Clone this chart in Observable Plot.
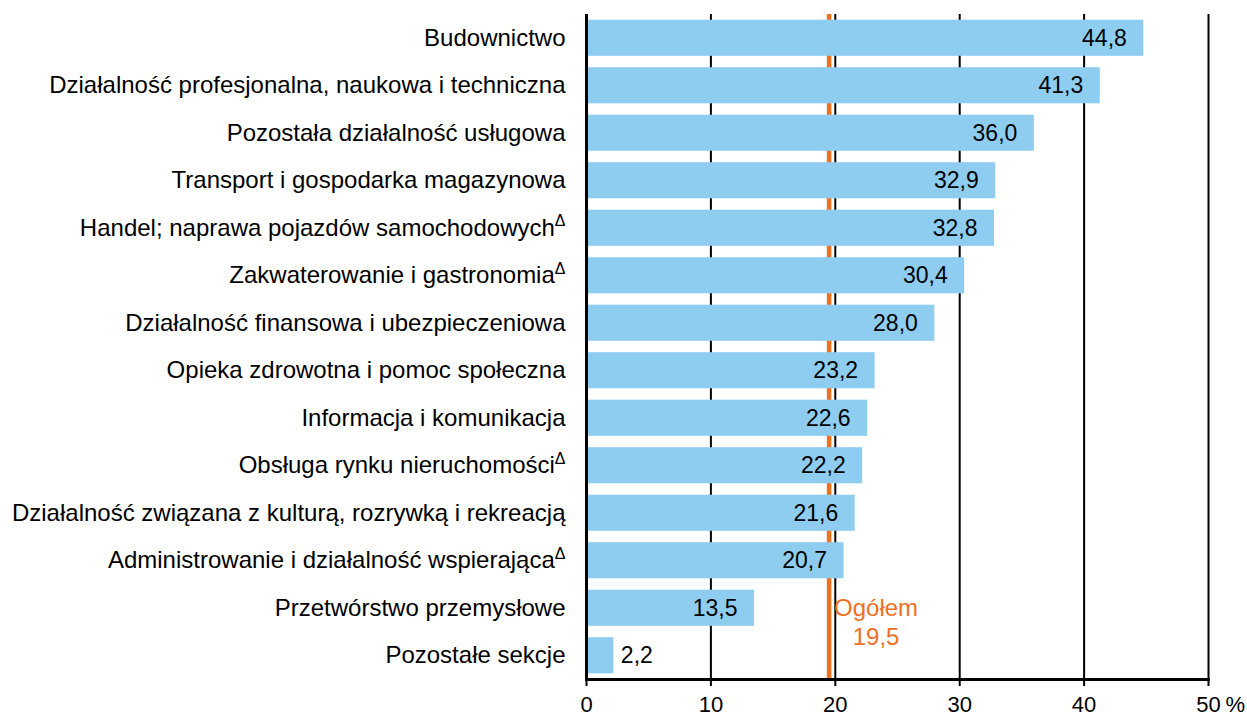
<!DOCTYPE html>
<html>
<head>
<meta charset="utf-8">
<script src="https://cdn.jsdelivr.net/npm/d3@7"></script>
<script src="https://cdn.jsdelivr.net/npm/@observablehq/plot@0.6"></script>
<style>
  html, body { margin: 0; padding: 0; background: #fff; }
  #chart { width: 1247px; height: 717px; }
</style>
</head>
<body>
<div id="chart"></div>
<script>
const categories = [
  "Budownictwo",
  "Działalność profesjonalna, naukowa i techniczna",
  "Pozostała działalność usługowa",
  "Transport i gospodarka magazynowa",
  "Handel; naprawa pojazdów samochodowychΔ",
  "Zakwaterowanie i gastronomiaΔ",
  "Działalność finansowa i ubezpieczeniowa",
  "Opieka zdrowotna i pomoc społeczna",
  "Informacja i komunikacja",
  "Obsługa rynku nieruchomościΔ",
  "Działalność związana z kulturą, rozrywką i rekreacją",
  "Administrowanie i działalność wspierającaΔ",
  "Przetwórstwo przemysłowe",
  "Pozostałe sekcje"
];
const values = [44.8, 41.3, 36.0, 32.9, 32.8, 30.4, 28.0, 23.2, 22.6, 22.2, 21.6, 20.7, 13.5, 2.2];
const xTicks = [0, 10, 20, 30, 40, 50];
const overall = 19.5;
const overallLabel = "Ogółem";
const unitLabel = "%";

const fmt = v => d3.format(".1f")(v).replace(".", ",");
const data = categories.map((c, i) => ({cat: c, value: values[i], label: fmt(values[i])}));
const inside = data.filter(d => d.value > 5);
const outside = data.filter(d => d.value <= 5);

const blue = "#8ecdf0";
const orange = "#f07022";

const chart = Plot.plot({
  width: 1247,
  height: 717,
  marginLeft: 586,
  marginRight: 39,
  marginTop: 14,
  marginBottom: 38,
  style: {fontFamily: "'Liberation Sans', Arial, sans-serif", fontSize: "23px", color: "black", background: "white"},
  x: {domain: [0, 50], axis: null},
  y: {domain: categories, paddingInner: 0.24, paddingOuter: 0.12, round: false, axis: null},
  marks: [
    Plot.ruleX(xTicks.filter(t => t > 0), {stroke: "black", strokeWidth: 2}),
    Plot.ruleX([overall], {stroke: orange, strokeWidth: 4.5}),
    Plot.barX(data, {x: "value", y: "cat", fill: blue}),
    Plot.ruleX([0], {stroke: "black", strokeWidth: 3}),
    Plot.frame({anchor: "bottom", stroke: "black", strokeWidth: 3}),
    Plot.axisX({ticks: xTicks, tickSize: 7, tickPadding: 10, strokeWidth: 2, fontSize: 22, tickFormat: d => String(d)}),
    Plot.text([unitLabel], {x: 50, frameAnchor: "bottom", lineAnchor: "top", dx: 17, dy: 17, textAnchor: "start", fontSize: 22}),
    Plot.text(data, {y: "cat", text: "cat", frameAnchor: "left", textAnchor: "end", dx: -21, fontSize: 24}),
    Plot.text(inside, {x: "value", y: "cat", text: "label", textAnchor: "end", dx: -17, fontSize: 23}),
    Plot.text(outside, {x: "value", y: "cat", text: "label", textAnchor: "start", dx: 7, fontSize: 23}),
    Plot.text([{x: overall, y: categories[12], t: overallLabel}], {x: "x", y: "y", text: "t", dx: 47, fill: orange, fontSize: 24}),
    Plot.text([{x: overall, y: categories[13], t: fmt(overall)}], {x: "x", y: "y", text: "t", dx: 47, dy: -18, fill: orange, fontSize: 24})
  ]
});

// superscript Δ
d3.select(chart).selectAll("text").each(function() {
  const t = this.textContent;
  if (t.endsWith("Δ") && this.childElementCount === 0) {
    this.textContent = t.slice(0, -1);
    d3.select(this).append("tspan").attr("dy", "-0.6em").attr("font-size", "16px").text("Δ");
  }
});

document.getElementById("chart").appendChild(chart);
</script>
</body>
</html>
